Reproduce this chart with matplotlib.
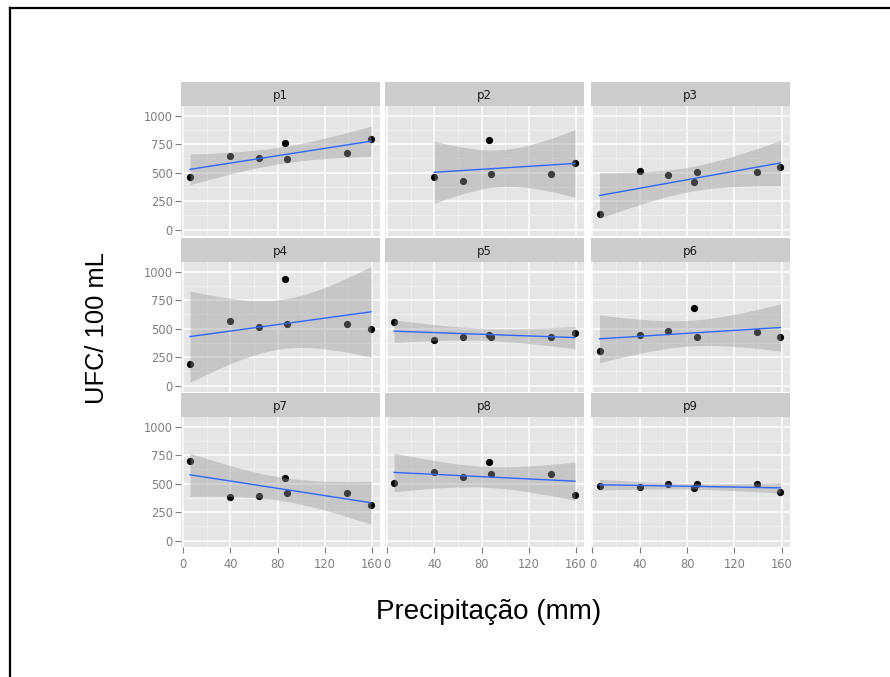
import numpy as np
import matplotlib
matplotlib.use("Agg")
import matplotlib.pyplot as plt
from matplotlib.lines import Line2D

plt.rcParams['font.family'] = ['Liberation Sans', 'DejaVu Sans']

# Precipitation (mm) at each sampling date, shared by all sites
precip = [6, 40, 64, 86, 88, 139, 159]

# Bacterial counts (UFC / 100 mL) per sampling site; None = no sample
sites = ["p1", "p2", "p3", "p4", "p5", "p6", "p7", "p8", "p9"]
p1 = [458, 646, 629, 763, 617, 670, 794]
p2 = [None, 461, 429, 785, 490, 490, 585]
p3 = [136, 516, 478, 417, 504, 504, 554]
p4 = [186, 569, 519, 932, 540, 540, 496]
p5 = [563, 398, 425, 445, 425, 430, 463]
p6 = [304, 442, 478, 678, 428, 474, 425]
p7 = [697, 386, 395, 549, 422, 422, 309]
p8 = [510, 602, 558, 691, 581, 581, 398]
p9 = [484, 472, 498, 459, 498, 498, 430]
counts = [p1, p2, p3, p4, p5, p6, p7, p8, p9]

x_ticks = [0, 40, 80, 120, 160]
y_ticks = [0, 250, 500, 750, 1000]

# two-sided 95% Student t quantiles by residual degrees of freedom
T95 = {4: 2.776445, 5: 2.570582}


def lm_band(x, y, n_eval=80):
    x = np.asarray(x, float)
    y = np.asarray(y, float)
    n = len(x)
    b, a = np.polyfit(x, y, 1)
    resid = y - (a + b * x)
    s = np.sqrt(np.sum(resid ** 2) / (n - 2))
    mx = x.mean()
    sxx = np.sum((x - mx) ** 2)
    xs = np.linspace(x.min(), x.max(), n_eval)
    fit = a + b * xs
    se = s * np.sqrt(1.0 / n + (xs - mx) ** 2 / sxx)
    t = T95[n - 2]
    return xs, fit, fit - t * se, fit + t * se


W, H = 890, 677
fig = plt.figure(figsize=(W / 100, H / 100), dpi=100)

col_left = [181, 385, 590.5]
panel_w = 199
row_top = [106, 262, 417]
panel_h = 129.5
strip_h = 24

bands = []
for vals in counts:
    xv = [px for px, v in zip(precip, vals) if v is not None]
    yv = [v for v in vals if v is not None]
    bands.append((xv, yv, lm_band(xv, yv)))

# shared x range over all panels with 5% expansion
all_x = np.concatenate([np.asarray(b[0], float) for b in bands])
xr = all_x.max() - all_x.min()
xlim = (all_x.min() - 0.05 * xr, all_x.max() + 0.05 * xr)
ylim = (-51, 1085)

tick_col = "#7f7f7f"
tick_font = ['DejaVu Sans']
for i, name in enumerate(sites):
    r, c = divmod(i, 3)
    left = col_left[c]
    top = row_top[r]
    ax = fig.add_axes([left / W, 1 - (top + panel_h) / H, panel_w / W, panel_h / H])
    ax.set_facecolor("#e5e5e5")
    for sp in ax.spines.values():
        sp.set_visible(False)
    ax.set_xlim(*xlim)
    ax.set_ylim(*ylim)
    ax.set_xticks(x_ticks)
    ax.set_yticks(y_ticks)
    ax.set_xticks([20, 60, 100, 140], minor=True)
    ax.set_yticks([125, 375, 625, 875], minor=True)
    ax.grid(which="major", color="white", linewidth=1.1)
    ax.grid(which="minor", color="#f2f2f2", linewidth=0.6)
    ax.set_axisbelow(True)
    ax.tick_params(which="minor", length=0)
    ax.tick_params(which="major", length=4, width=0.8, color=tick_col,
                   labelcolor=tick_col, labelsize=8.3)
    ax.tick_params(axis="y", pad=2)
    ax.tick_params(axis="x", pad=4)
    if c != 0:
        ax.tick_params(axis="y", length=0, labelleft=False)
    else:
        ax.set_yticklabels([str(v) for v in y_ticks], family=tick_font)
    if r != 2:
        ax.tick_params(axis="x", length=0, labelbottom=False)
    else:
        ax.set_xticklabels([str(v) for v in x_ticks], family=tick_font)

    xv, yv, (xs, fit, lo, hi) = bands[i]
    ax.scatter(xv, yv, s=27, color="black", zorder=2, linewidths=0)
    ax.fill_between(xs, lo, hi, color="#999999", alpha=0.4, linewidth=0, zorder=3)
    ax.plot(xs, fit, color="#3366FF", linewidth=1.0, zorder=4)

    sax = fig.add_axes([left / W, 1 - top / H, panel_w / W, strip_h / H])
    sax.set_facecolor("#cccccc")
    sax.set_xticks([])
    sax.set_yticks([])
    for sp in sax.spines.values():
        sp.set_visible(False)
    sax.text(0.5, 0.45, name, ha="center", va="center", fontsize=8.5,
             family=tick_font, color="#1a1a1a", transform=sax.transAxes)

fig.text(489 / W, 1 - 612 / H, "Precipitação (mm)", ha="center", va="center",
         fontsize=20, color="black")
fig.text(97 / W, 1 - 328 / H, "UFC/ 100 mL", ha="center", va="center",
         rotation=90, fontsize=18.4, color="black")

# outer frame: top and left edges
fig.add_artist(Line2D([9.5 / W, 1.0], [1 - 7.5 / H, 1 - 7.5 / H],
                      color="black", linewidth=1.6))
fig.add_artist(Line2D([9.5 / W, 9.5 / W], [0.0, 1 - 7.5 / H],
                      color="black", linewidth=1.6))

fig.savefig("out.png", dpi=100, facecolor="white")
